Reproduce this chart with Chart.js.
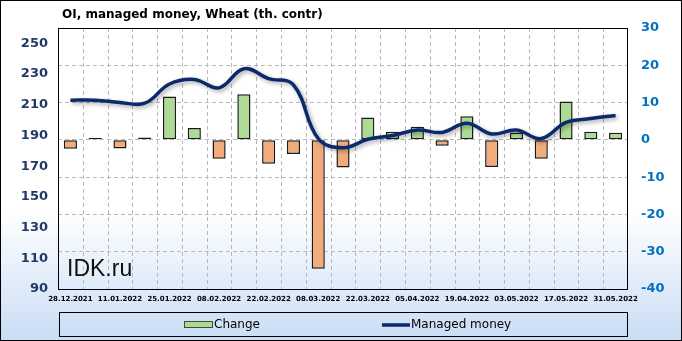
<!DOCTYPE html>
<html>
<head>
<meta charset="utf-8">
<script src="https://cdn.jsdelivr.net/npm/chart.js@4"></script>
<style>
  html, body { margin: 0; padding: 0; background: #fff; }
  #wrap { width: 682px; height: 341px; position: relative; }
</style>
</head>
<body>
<div id="wrap"><canvas id="chartOI" width="682" height="341"></canvas></div>
<script>
// Datos del gráfico
const fechas = [
  '28.12.2021', '04.01.2022', '11.01.2022', '18.01.2022', '25.01.2022', '01.02.2022',
  '08.02.2022', '15.02.2022', '22.02.2022', '01.03.2022', '08.03.2022', '15.03.2022',
  '22.03.2022', '29.03.2022', '05.04.2022', '12.04.2022', '19.04.2022', '26.04.2022',
  '03.05.2022', '10.05.2022', '17.05.2022', '24.05.2022', '31.05.2022'
];
const cambio = [
  -2.4, 0.5, -2.3, 0.6, 11.6, 3.2, -5.1, 12.2, -6.4, -3.8, -34.6, -7.4,
  6.0, 2.2, 3.5, -1.6, 6.3, -7.3, 2.0, -5.1, 10.3, 2.2, 1.9
];
const managedMoney = [
  213, 213, 211.5, 211, 223.5, 226.5, 221, 233.5, 227, 223, 188, 182,
  187.5, 190, 193.5, 192, 198, 191, 193.5, 188, 198.5, 201, 203
];
const ticksIzq = [90, 110, 130, 150, 170, 190, 210, 230, 250];

const AZUL_OSCURO = '#0b2a6b';
const VERDE = '#addb93';
const VERDE_BORDE_LEY = '#3f4f2f';
const NARANJA = '#f2ac7c';
const GRIS_GRID = '#b8b8b8';

// Fondo, rejilla vertical, marco, título, marca de agua y leyenda
const decoracion = {
  id: 'decoracion',
  beforeDraw(chart) {
    const { ctx, width, height } = chart;
    ctx.save();
    const g = ctx.createLinearGradient(0, 0, 0, height);
    g.addColorStop(0, '#ffffff');
    g.addColorStop(0.62, '#ffffff');
    g.addColorStop(1, '#c9ddf5');
    ctx.fillStyle = g;
    ctx.fillRect(0, 0, width, height);
    ctx.restore();
  },
  beforeDatasetsDraw(chart) {
    const { ctx, chartArea: a } = chart;
    const x = chart.scales.x;
    ctx.save();
    // líneas verticales entre categorías
    const paso = x.getPixelForValue(1) - x.getPixelForValue(0);
    ctx.strokeStyle = GRIS_GRID;
    ctx.lineWidth = 1;
    ctx.setLineDash([4, 3]);
    for (let i = 1; i < fechas.length; i++) {
      const px = Math.round(x.getPixelForValue(i) - paso / 2) + 0.5;
      ctx.beginPath();
      ctx.moveTo(px, a.top);
      ctx.lineTo(px, a.bottom);
      ctx.stroke();
    }
    ctx.setLineDash([]);
    // marca de agua
    ctx.font = '23px "Liberation Sans", Arial, sans-serif';
    ctx.fillStyle = '#111';
    ctx.textBaseline = 'alphabetic';
    ctx.fillText('IDK.ru', a.left + 9, 276);
    ctx.restore();
  },
  afterDraw(chart) {
    const { ctx, width, height, chartArea: a } = chart;
    ctx.save();
    // marco del área de trazado
    ctx.strokeStyle = '#000';
    ctx.lineWidth = 1;
    ctx.strokeRect(Math.round(a.left) + 0.5, Math.round(a.top) + 0.5,
      Math.round(a.right - a.left) - 1, Math.round(a.bottom - a.top));
    // borde exterior
    ctx.strokeRect(0.5, 0.5, width - 1, height - 1);
    // título
    ctx.fillStyle = '#000';
    ctx.font = 'bold 12px "DejaVu Sans", sans-serif';
    ctx.textBaseline = 'middle';
    ctx.fillText('OI, managed money, Wheat (th. contr)', 62, 15);
    // leyenda
    ctx.strokeRect(59.5, 312.5, 568, 24);
    ctx.fillStyle = VERDE;
    ctx.fillRect(184, 321, 29, 7);
    ctx.strokeStyle = VERDE_BORDE_LEY;
    ctx.strokeRect(184.5, 321.5, 28, 6);
    ctx.fillStyle = '#000';
    ctx.font = '12px "DejaVu Sans", sans-serif';
    ctx.fillText('Change', 214, 325);
    ctx.strokeStyle = AZUL_OSCURO;
    ctx.lineWidth = 3.5;
    ctx.beginPath();
    ctx.moveTo(382, 325);
    ctx.lineTo(410, 325);
    ctx.stroke();
    ctx.fillText('Managed money', 411, 325);
    ctx.restore();
  }
};

// Sombra de la línea
const sombraLinea = {
  id: 'sombraLinea',
  beforeDatasetDraw(chart, args) {
    if (args.meta.type !== 'line') return;
    const ctx = chart.ctx;
    ctx.save();
    ctx.shadowColor = 'rgba(0,0,0,0.35)';
    ctx.shadowBlur = 4;
    ctx.shadowOffsetX = 2;
    ctx.shadowOffsetY = 2;
  },
  afterDatasetDraw(chart, args) {
    if (args.meta.type !== 'line') return;
    chart.ctx.restore();
  }
};

new Chart(document.getElementById('chartOI'), {
  type: 'bar',
  data: {
    labels: fechas,
    datasets: [
      {
        type: 'line',
        label: 'Managed money',
        data: managedMoney,
        yAxisID: 'yL',
        borderColor: AZUL_OSCURO,
        borderWidth: 3.5,
        tension: 0.4,
        pointRadius: 0,
        fill: false,
        order: 0
      },
      {
        type: 'bar',
        label: 'Change',
        data: cambio,
        yAxisID: 'yR',
        backgroundColor: cambio.map(v => v >= 0 ? VERDE : NARANJA),
        borderColor: '#1a1a1a',
        borderWidth: 1.5,
        borderSkipped: false,
        categoryPercentage: 1,
        barPercentage: 0.53,
        order: 1
      }
    ]
  },
  options: {
    responsive: false,
    animation: false,
    devicePixelRatio: 1,
    layout: { padding: { top: 28, bottom: 38, left: 0, right: 0 } },
    plugins: {
      legend: { display: false },
      title: { display: false },
      tooltip: { enabled: false }
    },
    scales: {
      x: {
        offset: true,
        grid: { display: false, drawTicks: false },
        border: { display: false },
        ticks: {
          autoSkip: false,
          maxRotation: 0,
          minRotation: 0,
          padding: 6,
          color: '#000',
          font: { family: '"DejaVu Sans", sans-serif', size: 7, weight: 'bold' },
          callback: function (val, i) { return i % 2 === 0 ? fechas[i] : ''; }
        },
        afterFit(scale) { scale.height = 14; }
      },
      yL: {
        position: 'left',
        min: 90,
        max: 260,
        grid: { display: false, drawTicks: false },
        border: { display: false },
        ticks: {
          padding: 10,
          color: '#1f3864',
          font: { family: '"DejaVu Sans", sans-serif', size: 13, weight: 'bold' }
        },
        afterBuildTicks(scale) { scale.ticks = ticksIzq.map(v => ({ value: v })); },
        afterFit(scale) { scale.width = 58; }
      },
      yR: {
        position: 'right',
        min: -40,
        max: 30,
        grid: { color: GRIS_GRID, drawTicks: false },
        border: { display: false, dash: [4, 3] },
        ticks: {
          stepSize: 10,
          padding: 13,
          color: '#0070c0',
          font: { family: '"DejaVu Sans", sans-serif', size: 13, weight: 'bold' }
        },
        afterFit(scale) { scale.width = 54; }
      }
    }
  },
  plugins: [decoracion, sombraLinea]
});
</script>
</body>
</html>
